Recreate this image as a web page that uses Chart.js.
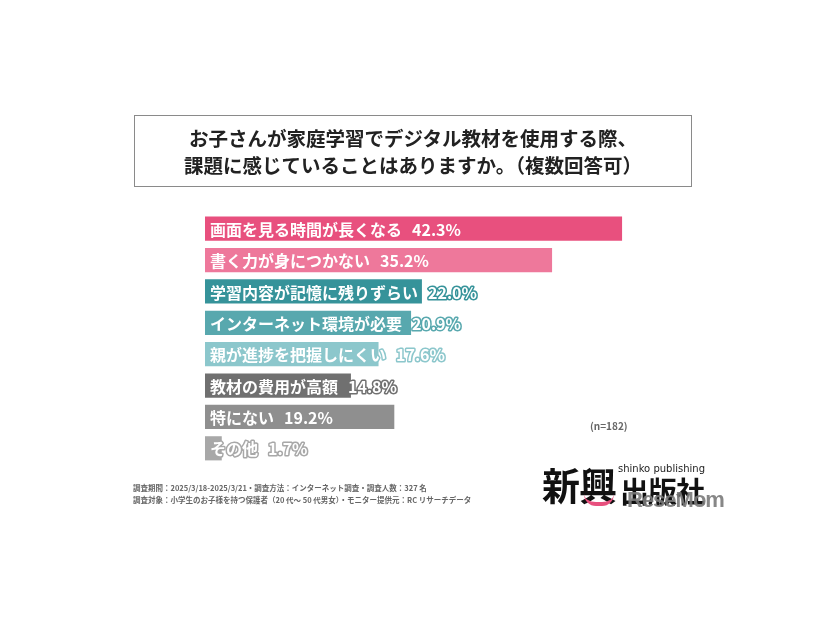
<!DOCTYPE html>
<html lang="ja">
<head>
<meta charset="utf-8">
<title>デジタル教材の課題</title>
<script src="https://cdn.jsdelivr.net/npm/chart.js@4.4.1/dist/chart.umd.min.js"></script>
<style>
  body { margin: 0; background: #fff; font-family: "Noto Sans CJK JP", "Noto Sans", sans-serif; }
  #wrap { position: relative; width: 826px; height: 620px; }
  #chart { position: absolute; left: 0; top: 0; }
  .title-box {
    position: absolute; left: 134px; top: 115px; width: 556px; height: 70px;
    border: 1px solid #8a8a8a; text-align: center; font-weight: bold;
    font-size: 19.5px; line-height: 27px; color: #222;
  }
  .title-box div:first-child { margin-top: 8px; }
  .n-note { position: absolute; left: 590px; top: 418px; font-size: 10px; font-weight: bold; color: #666; }
  .foot { position: absolute; left: 133px; top: 482px; font-size: 7.5px; font-weight: bold; color: #666; line-height: 12px; white-space: nowrap; }
  .logo { position: absolute; left: 540px; top: 458px; width: 190px; height: 60px; }
  .logo .big { position: absolute; left: 2px; top: 6px; font-size: 38px; font-weight: bold; color: #111; line-height: 40px; letter-spacing: -1px; }
  .logo .mid { position: absolute; left: 80px; top: 12px; font-size: 29px; font-weight: bold; color: #111; line-height: 40px; letter-spacing: -1px; }
  .logo .en { position: absolute; left: 78px; top: 5px; font-size: 10px; color: #222; font-family: "DejaVu Sans", sans-serif; }
  .logo .rm { position: absolute; left: 87px; top: 29px; font-size: 22px; font-weight: bold; color: #7a7a7a; font-family: "Liberation Sans", sans-serif; letter-spacing: -1px; opacity: 0.9; }
  .logo .smile { position: absolute; left: 44px; top: 36px; width: 30px; height: 8px; border-bottom: 4px solid #e8507e; border-radius: 0 0 20px 20px; }
</style>
</head>
<body>
<div id="wrap">
  <canvas id="chart" width="826" height="620"></canvas>
  <div class="title-box">
    <div>お子さんが家庭学習でデジタル教材を使用する際、</div>
    <div>課題に感じていることはありますか。（複数回答可）</div>
  </div>
  <div class="n-note">(n=182)</div>
  <div class="foot">
    <div>調査期間：2025/3/18-2025/3/21・調査方法：インターネット調査・調査人数：327 名</div>
    <div>調査対象：小学生のお子様を持つ保護者（20 代～ 50 代男女）・モニター提供元：RC リサーチデータ</div>
  </div>
  <div class="logo">
    <div class="big">新興</div>
    <div class="en">shinko publishing</div>
    <div class="mid">出版社</div>
    <div class="rm">ReseMom</div>
    <div class="smile"></div>
  </div>
</div>
<script>
// --- DATA ---
const categories = [
  '画面を見る時間が長くなる',
  '書く力が身につかない',
  '学習内容が記憶に残りずらい',
  'インターネット環境が必要',
  '親が進捗を把握しにくい',
  '教材の費用が高額',
  '特にない',
  'その他'
];
const percentages = [42.3, 35.2, 22.0, 20.9, 17.6, 14.8, 19.2, 1.7];
const barColors = ['#e8507e', '#ee789b', '#36939a', '#58a8ae', '#8cc7cc', '#707070', '#8f8f8f', '#a8a8a8'];

// --- LABELS INSIDE/AFTER BARS ---
const barLabels = {
  id: 'barLabels',
  afterDatasetsDraw(chart) {
    const ctx = chart.ctx;
    const meta = chart.getDatasetMeta(0);
    ctx.save();
    ctx.font = 'bold 16px "Noto Sans CJK JP"';
    ctx.textBaseline = 'middle';
    ctx.lineJoin = 'round';
    meta.data.forEach((bar, i) => {
      const x = bar.base + 5;
      const y = bar.y + 1;
      const name = categories[i];
      const pct = percentages[i].toFixed(1) + '%';
      ctx.lineWidth = 3;
      ctx.strokeStyle = barColors[i];
      ctx.fillStyle = '#fff';
      ctx.strokeText(name, x, y);
      ctx.fillText(name, x, y);
      const px = x + ctx.measureText(name).width + 10;
      ctx.strokeText(pct, px, y);
      ctx.fillText(pct, px, y);
    });
    ctx.restore();
  }
};

new Chart(document.getElementById('chart'), {
  type: 'bar',
  data: {
    labels: categories,
    datasets: [{
      data: percentages,
      backgroundColor: barColors,
      borderWidth: 0,
      barPercentage: 0.77,
      categoryPercentage: 1.0
    }]
  },
  options: {
    indexAxis: 'y',
    responsive: false,
    animation: false,
    layout: { padding: { left: 205, right: 128, top: 213, bottom: 156 } },
    scales: {
      x: { display: false, min: 0, max: 50 },
      y: { display: false }
    },
    plugins: { legend: { display: false }, tooltip: { enabled: false } }
  },
  plugins: [barLabels]
});
</script>
</body>
</html>
